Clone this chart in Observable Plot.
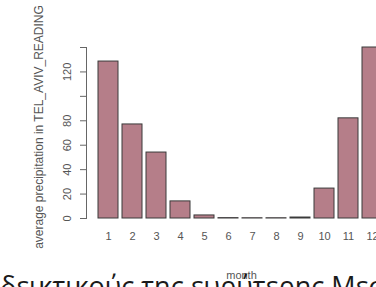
<!DOCTYPE html>
<html>
<head>
<meta charset="utf-8">
<script src="https://cdn.jsdelivr.net/npm/d3@7"></script>
<script src="https://cdn.jsdelivr.net/npm/@observablehq/plot@0.6"></script>
<style>
  html, body { margin: 0; padding: 0; background: #fff; }
  body { width: 376px; height: 287px; overflow: hidden; position: relative; }
  #chart { position: absolute; left: 0; top: 0; width: 400px; }
  #chart svg { max-width: none !important; width: 400px; height: 287px; }
  #caption { position: absolute; left: 0; top: 267px; white-space: nowrap;
    font-family: "Open Sans", "Noto Sans", sans-serif; font-size: 27px; color: #1a1a1a; }
</style>
</head>
<body>
<div id="chart"></div>
<div id="caption"></div>
<script>
const months = [1, 2, 3, 4, 5, 6, 7, 8, 9, 10, 11, 12];
const precipitation = [128.5, 77, 54, 14, 2.5, 0.3, 0.2, 0.2, 0.8, 24.5, 82, 140];
const yTicks = [0, 20, 40, 60, 80, 100, 120, 140];
const yTickLabels = ["0", "20", "40", "60", "80", "", "120", ""];
const xTitle = "month";
const yTitle = "average precipitation in TEL_AVIV_READING";
const captionText = "δεικτικούς της ευρύτερης Μεσογείου";

const data = months.map((m, i) => ({month: m, value: precipitation[i]}));
const yLabelData = yTicks.map((t, i) => ({tick: t, label: yTickLabels[i]}));

const chart = Plot.plot({
  width: 400,
  height: 287,
  marginLeft: 86,
  marginRight: 4,
  marginTop: 47,
  marginBottom: 69,
  style: {fontFamily: "'Liberation Sans', Arial, sans-serif", fontSize: "11px", color: "#555", background: "transparent"},
  x: {type: "band", domain: months, range: [96, 384.7], paddingInner: 0.168, paddingOuter: 0, axis: null},
  y: {domain: [0, 140], axis: null},
  marks: [
    Plot.frame({anchor: "left", stroke: "#666"}),
    Plot.axisY(yTicks, {tickSize: 6, tickFormat: () => "", stroke: "#666", label: null}),
    Plot.barY(data, {x: "month", y: "value", fill: "#b57e89", stroke: "#3a3a3a", strokeWidth: 1}),
    Plot.axisX({tickSize: 0, tickPadding: 14, label: null, fill: "#555"}),
    Plot.text(yLabelData, {y: "tick", text: "label", frameAnchor: "left", rotate: -90, dx: -15.5, lineAnchor: "bottom", textAnchor: "middle", fill: "#555"}),
    Plot.text([yTitle], {frameAnchor: "left", rotate: -90, dx: -44, dy: -6, lineAnchor: "bottom", textAnchor: "middle", fill: "#555", fontSize: 12}),
    Plot.text([xTitle], {frameAnchor: "bottom", dy: 60, lineAnchor: "bottom", fill: "#555"})
  ]
});
document.getElementById("chart").appendChild(chart);
document.getElementById("caption").textContent = captionText;
</script>
</body>
</html>
